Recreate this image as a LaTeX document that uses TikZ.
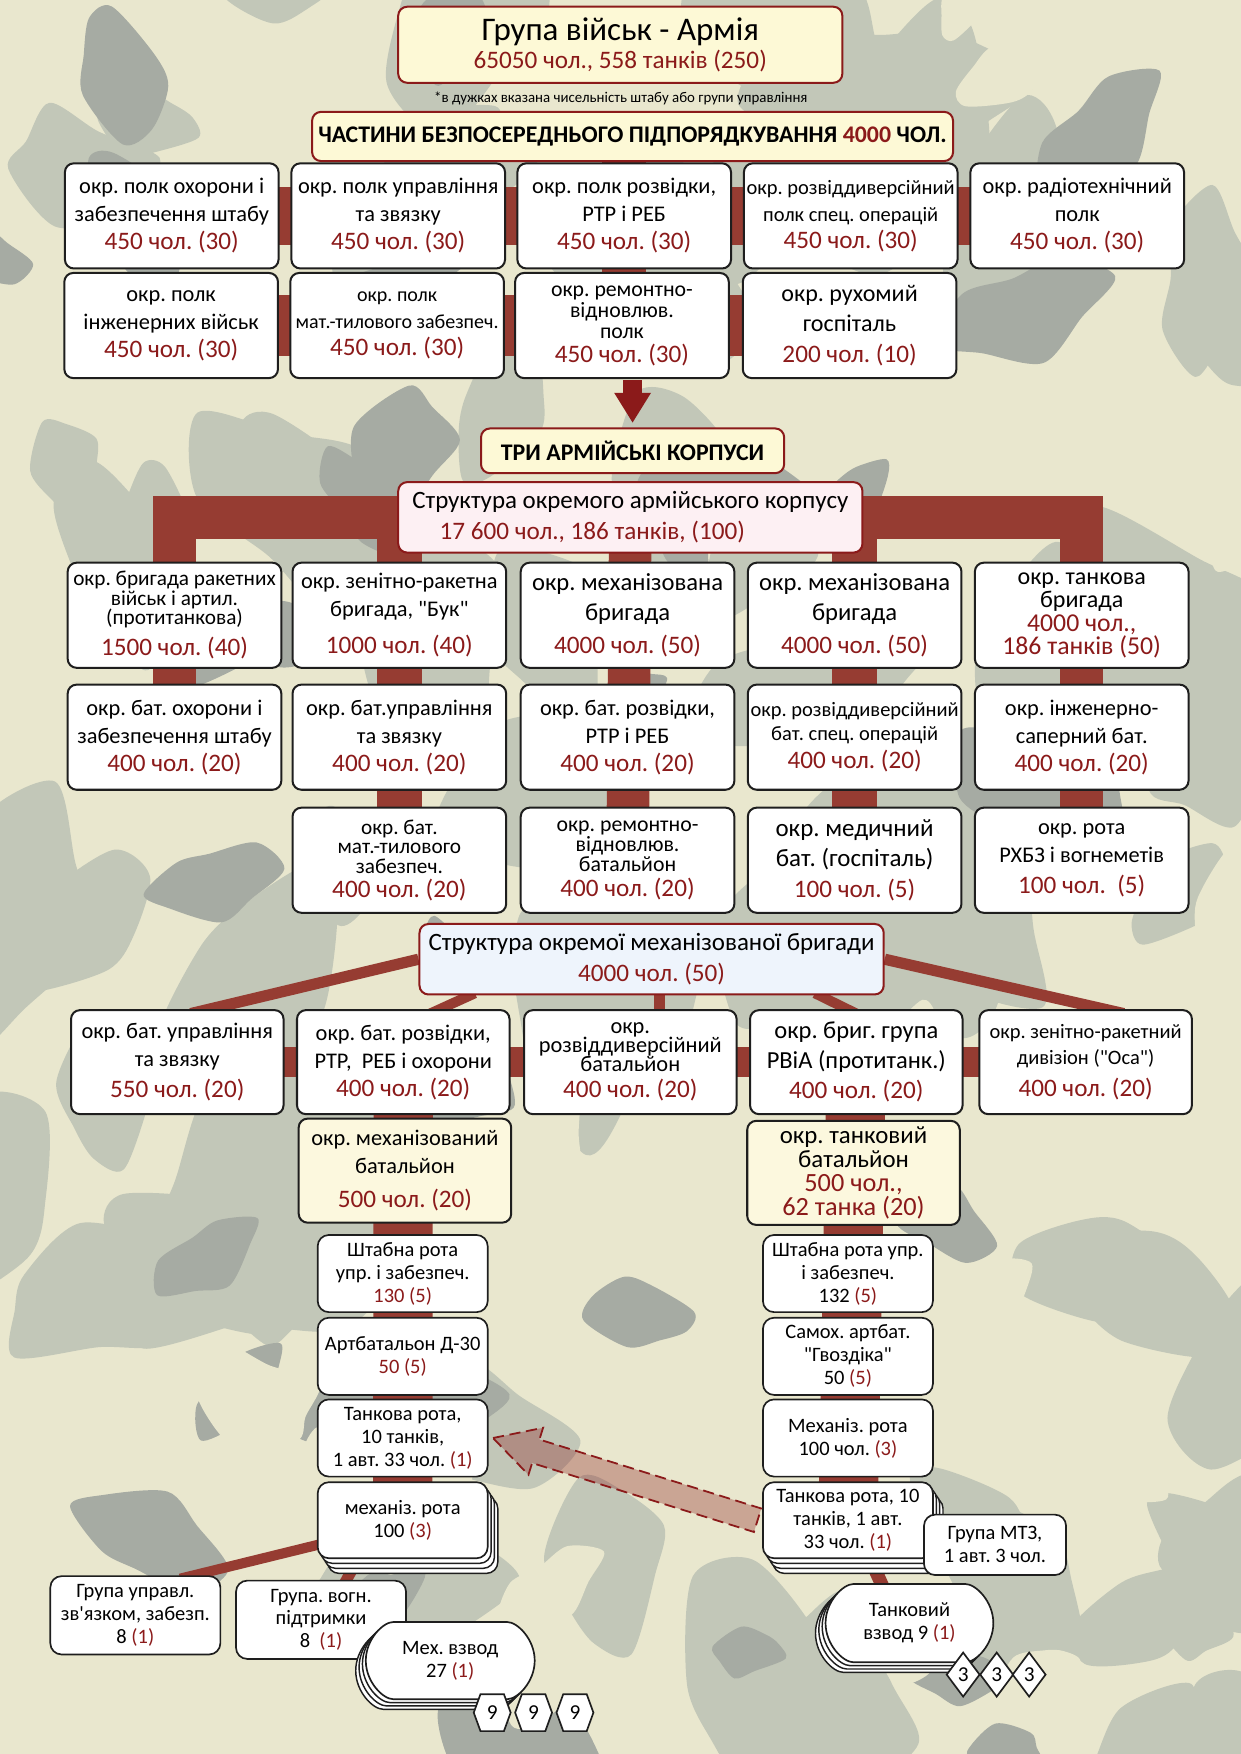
\documentclass[tikz,border=0pt]{standalone}
\usepackage{fontspec}
\setmainfont{Carlito}[Ligatures=TeXOff]
\usetikzlibrary{calc,arrows.meta,shapes.geometric,shapes.misc,shapes.symbols,shadows}

\definecolor{armyred}{RGB}{139,26,26}
\definecolor{barred}{RGB}{150,60,50}
\definecolor{boxline}{RGB}{30,30,30}
\definecolor{hqfill}{RGB}{253,249,214}
\definecolor{corpsfill}{RGB}{253,240,243}
\definecolor{brigfill}{RGB}{238,244,252}
\definecolor{batfill}{RGB}{252,248,222}
\definecolor{camolight}{RGB}{233,231,206}
\definecolor{camomid}{RGB}{194,199,184}
\definecolor{camodark}{RGB}{166,171,163}

\pgfdeclarelayer{camo}
\pgfdeclarelayer{bars}
\pgfsetlayers{camo,bars,main}

\frenchspacing
\newcommand\cnt[1]{\textcolor{armyred}{#1}}
\newcommand\strength[1]{{\fontsize{22.5}{25}\selectfont\color{armyred}#1}}

\tikzset{
  unitbox/.style={draw=boxline, line width=1.8, fill=white, rounded corners=8,
    align=center, inner sep=1, font=\fontsize{20}{25}\selectfont},
  wh/.style 2 args={minimum width=#1, minimum height=#2},
  hqbox/.style={unitbox, draw=armyred, fill=hqfill},
  corpsbox/.style={unitbox, draw=armyred, fill=corpsfill, font=\fontsize{22.3}{28}\selectfont},
  brigbox/.style={unitbox, draw=armyred, fill=brigfill, font=\fontsize{22.3}{28}\selectfont},
  batbox/.style={unitbox, fill=batfill},
  coybox/.style={unitbox, line width=1.5, rounded corners=10, font=\fontsize{18.3}{20.5}\selectfont},
  stackcopy/.style={fill=white, draw=boxline, line width=1.3},
  coystack/.style={coybox,
    general shadow={shadow xshift=9pt, shadow yshift=-13.5pt, stackcopy},
    general shadow={shadow xshift=6pt, shadow yshift=-9pt, stackcopy},
    general shadow={shadow xshift=3pt, shadow yshift=-4.5pt, stackcopy}},
  platoon/.style={coybox, rounded rectangle,
    general shadow={shadow xshift=-9pt, shadow yshift=-9pt, stackcopy},
    general shadow={shadow xshift=-6pt, shadow yshift=-6pt, stackcopy},
    general shadow={shadow xshift=-3pt, shadow yshift=-3pt, stackcopy}},
  hexa/.style={signal, signal to=east and west, signal pointer angle=140, draw=boxline,
    fill=white, line width=1.5, minimum width=33, minimum height=33, inner sep=0,
    font=\fontsize{19}{20}\selectfont},
  rhomb/.style={diamond, draw=boxline, fill=white, line width=1.5, minimum width=30,
    minimum height=40, inner sep=0, font=\fontsize{19}{20}\selectfont},
  bar/.style={draw=barred},
  dashbar/.style={draw=armyred, fill=armyred, fill opacity=0.32, line width=1.6,
    dash pattern=on 10pt off 5pt}
}

\begin{document}
\begin{tikzpicture}[x=1pt,y=-1pt]
  \useasboundingbox (0,0) rectangle (1109,1568);
  % camouflage
  \begin{pgfonlayer}{camo}
    \fill[camolight] (0,0) rectangle (1109,1568);
    \pgfmathsetseed{31}
    \foreach \col/\n/\rmin/\rvar in {camomid/85/45/75, camodark/36/30/50, camolight/22/30/40} {
      \foreach \i in {1,...,\n} {
        \pgfmathsetmacro\bx{rnd*1180-35}
        \pgfmathsetmacro\by{rnd*1640-35}
        \pgfmathsetmacro\br{\rmin+rnd*\rvar}
        \pgfmathsetmacro\ang{rnd*180}
        \pgfmathsetmacro\ph{rnd*360}
        \fill[\col, rotate around={\ang:(\bx,\by)}] plot[smooth cycle, domain=0:315, samples=8]
          ({\bx+\br*(1+0.3*sin(2*\x+\ph))*cos(\x)}, {\by+0.6*\br*(1+0.25*cos(3*\x+\ph))*sin(\x)});
      }
    }
  \end{pgfonlayer}

  % army level
  \node[hqbox, wh={397}{68}] (army) at (554.5,40)
    {{\fontsize{29.5}{31}\selectfont Група військ - Армія}\\\strength{65050 чол., 558 танків (250)}};
  \node[font=\fontsize{13.3}{14}\selectfont] (note) at (555,88)
    {*в дужках вказана чисельність штабу або групи управління};
  \node[hqbox, wh={573}{44}, font=\bfseries\fontsize{21.3}{24}\selectfont] (chast) at (565.5,122)
    {ЧАСТИНИ БЕЗПОСЕРЕДНЬОГО ПІДПОРЯДКУВАННЯ \textcolor{armyred}{4000} ЧОЛ.};

  \node[unitbox, wh={191}{94}] (r1a) at (153.5,193) {окр. полк охорони і\\забезпечення штабу\\\strength{450 чол. (30)}};
  \node[unitbox, wh={191}{94}] (r1b) at (356,193) {окр. полк управління\\та звязку\\\strength{450 чол. (30)}};
  \node[unitbox, wh={191}{94}] (r1c) at (558,193) {окр. полк розвідки,\\РТР і РЕБ\\\strength{450 чол. (30)}};
  \node[unitbox, wh={191}{94}, font=\fontsize{18.3}{24}\selectfont] (r1d) at (760.5,193) {окр. розвіддиверсійний\\полк спец. операцій\\\strength{450 чол. (30)}};
  \node[unitbox, wh={191}{94}] (r1e) at (963,193) {окр. радіотехнічний\\полк\\\strength{450 чол. (30)}};
  \node[unitbox, wh={191}{94}] (r2a) at (153,291) {окр. полк\\інженерних військ\\\strength{450 чол. (30)}};
  \node[unitbox, wh={191}{94}, font=\fontsize{17.9}{24}\selectfont] (r2b) at (355,291) {окр. полк\\мат.-тилового забезпеч.\\\strength{450 чол. (30)}};
  \node[unitbox, wh={191}{94}, font=\fontsize{19.5}{19}\selectfont] (r2c) at (556,291) {окр. ремонтно-\\відновлюв.\\полк\\[2pt]\strength{450 чол. (30)}};
  \node[unitbox, wh={191}{94}, font=\fontsize{21.5}{27}\selectfont] (r2d) at (759.5,291) {окр. рухомий\\госпіталь\\\strength{200 чол. (10)}};

  % corps level
  \node[hqbox, wh={271}{40}, font=\bfseries\fontsize{21.3}{24}\selectfont] (tri) at (565.5,403) {ТРИ АРМІЙСЬКІ КОРПУСИ};
  \draw[armyred, line width=17, -{Triangle[width=31pt,length=27pt]}] ($(tri.north)+(0,-42)$) -- ($(tri.north)+(0,-4)$);
  \node[corpsbox, wh={415}{63}] (corps) at (563.5,462.5)
    {Структура окремого армійського корпусу\\\strength{17 600 чол., 186 танків, (100)}\hspace*{68pt}};

  \node[unitbox, wh={191}{94}, font=\fontsize{19}{17.5}\selectfont] (cAa) at (156,550) {окр. бригада ракетних\\військ і артил.\\(протитанкова)\\[7pt]\strength{1500 чол. (40)}};
  \node[unitbox, wh={191}{94}] (cAb) at (357,550) {окр. зенітно-ракетна\\бригада, "Бук"\\[8pt]\strength{1000 чол. (40)}};
  \node[unitbox, wh={191}{94}, font=\fontsize{22}{27}\selectfont] (cAc) at (561,550) {окр. механізована\\бригада\\[2pt]\strength{4000 чол. (50)}};
  \node[unitbox, wh={191}{94}, font=\fontsize{22}{27}\selectfont] (cAd) at (764,550) {окр. механізована\\бригада\\[2pt]\strength{4000 чол. (50)}};
  \node[unitbox, wh={191}{94}, font=\fontsize{21.5}{21}\selectfont] (cAe) at (967,550) {окр. танкова\\бригада\\{\fontsize{23}{21}\selectfont\color{armyred}4000 чол.,}\\{\fontsize{23}{21}\selectfont\color{armyred}186 танків (50)}};
  \node[unitbox, wh={191}{94}] (cBa) at (156,659) {окр. бат. охорони і\\забезпечення штабу\\\strength{400 чол. (20)}};
  \node[unitbox, wh={191}{94}] (cBb) at (357,659) {окр. бат.управління\\та звязку\\\strength{400 чол. (20)}};
  \node[unitbox, wh={191}{94}] (cBc) at (561,659) {окр. бат. розвідки,\\РТР і РЕБ\\\strength{400 чол. (20)}};
  \node[unitbox, wh={191}{94}, font=\fontsize{18.3}{21}\selectfont] (cBd) at (764,659) {окр. розвіддиверсійний\\бат. спец. операцій\\[4pt]\strength{400 чол. (20)}};
  \node[unitbox, wh={191}{94}] (cBe) at (967,659) {окр. інженерно-\\саперний бат.\\\strength{400 чол. (20)}};
  \node[unitbox, wh={191}{94}, font=\fontsize{19}{17.5}\selectfont] (cCb) at (357,769) {окр. бат.\\мат.-тилового\\забезпеч.\\[4pt]\strength{400 чол. (20)}};
  \node[unitbox, wh={191}{94}, font=\fontsize{19.5}{18}\selectfont] (cCc) at (561,769) {окр. ремонтно-\\відновлюв.\\батальйон\\[4pt]\strength{400 чол. (20)}};
  \node[unitbox, wh={191}{94}, font=\fontsize{22.3}{27}\selectfont] (cCd) at (764,769) {окр. медичний\\бат. (госпіталь)\\\strength{100 чол. (5)}};
  \node[unitbox, wh={191}{94}] (cCe) at (967,769) {окр. рота\\РХБЗ і вогнеметів\\[3pt]\strength{100 чол.\ \ (5)}};

  % brigade level
  \node[brigbox, wh={415}{63}] (brig) at (582.5,857.5) {Структура окремої механізованої бригади\\\strength{4000 чол. (50)}};
  \node[unitbox, wh={190}{93}] (dA) at (158.5,949.5) {окр. бат. управління\\та звязку\\[3pt]\strength{550 чол. (20)}};
  \node[unitbox, wh={190}{93}] (dB) at (360.5,949.5) {окр. бат. розвідки,\\РТР,\ \ РЕБ і охорони\\\strength{400 чол. (20)}};
  \node[unitbox, wh={190}{93}, font=\fontsize{20}{17}\selectfont] (dC) at (563.5,949.5) {окр.\\розвіддиверсійний\\батальйон\\[6pt]\strength{400 чол. (20)}};
  \node[unitbox, wh={190}{93}, font=\fontsize{21.9}{27}\selectfont] (dD) at (765.5,949.5) {окр. бриг. група\\РВіА (протитанк.)\\\strength{400 чол. (20)}};
  \node[unitbox, wh={190}{93}, font=\fontsize{18.3}{23}\selectfont] (dE) at (970.5,949.5) {окр. зенітно-ракетний\\дивізіон ("Оса")\\[6pt]\strength{400 чол. (20)}};
  \node[batbox, wh={190}{93}] (bM) at (362,1046.5) {окр. механізований\\батальйон\\[5pt]\strength{500 чол. (20)}};
  \node[batbox, wh={190}{93}, font=\fontsize{22.2}{21.5}\selectfont] (bT) at (763,1048.5) {окр. танковий\\батальйон\\{\fontsize{23.5}{21}\selectfont\color{armyred}500 чол.,}\\{\fontsize{23.5}{21}\selectfont\color{armyred}62 танка (20)}};

  % mech battalion
  \node[coybox, wh={152}{69}] (sL) at (360,1138.5) {Штабна рота\\упр. і забезпеч.\\\cnt{130 (5)}};
  \node[coybox, wh={152}{69}] (aL) at (360,1212.5) {Артбатальон Д-30\\\cnt{50 (5)}};
  \node[coybox, wh={152}{69}] (tL) at (360,1285.5) {Танкова рота,\\10 танків,\\1 авт. 33 чол. \cnt{(1)}};
  \node[coystack, wh={152}{68}] (mL) at (360,1359) {механіз. рота\\100 \cnt{(3)}};
  \node[coybox, wh={152}{70}] (gU) at (121,1444) {Група управл.\\зв'язком, забезп.\\8 \cnt{(1)}};
  \node[coybox, wh={152}{70}] (gV) at (287,1448) {Група. вогн.\\підтримки\\8\ \ \cnt{(1)}};
  \node[platoon, wh={153}{69}] (vL) at (402.5,1484.5) {Мех. взвод\\27 \cnt{(1)}};
  \foreach \k/\hx in {1/440,2/477,3/514}
    \node[hexa] (h\k) at (\hx,1531) {9};

  % tank battalion
  \node[coybox, wh={152}{69}] (sR) at (758,1138.5) {Штабна рота упр.\\і забезпеч.\\132 \cnt{(5)}};
  \node[coybox, wh={152}{69}] (aR) at (758,1212.5) {Самох. артбат.\\"Гвоздіка"\\50 \cnt{(5)}};
  \node[coybox, wh={152}{69}] (mR) at (758,1285.5) {Механіз. рота\\100 чол. \cnt{(3)}};
  \node[coystack, wh={152}{68}] (tR) at (758,1359) {Танкова рота, 10\\танків, 1 авт.\\33 чол. \cnt{(1)}};
  \node[coybox, wh={127}{54}] (mtz) at (889.5,1381) {Група МТЗ,\\1 авт. 3 чол.};
  \node[platoon, wh={152}{70}] (vR) at (813,1451) {Танковий\\взвод 9 \cnt{(1)}};
  \foreach \k/\dx in {1/861,2/891,3/920}
    \node[rhomb] (d\k) at (\dx,1497) {3};

  % connecting bars
  \begin{pgfonlayer}{bars}
    \draw[bar, line width=39] (r1c.center |- chast.center) -- (r1c.center |- r2c.center);
    \draw[bar, line width=52] (r1a.center) -- (r1e.center);
    \draw[bar, line width=54] (r2a.center) -- (r2d.center);
    \draw[bar, line width=38] (cBa.center) -- (cBa.center |- corps.center) -- (cCe.center |- corps.center) -- (cCe.center);
    \draw[bar, line width=40] (cAb.center |- corps.center) -- (cCb.center);
    \draw[bar, line width=38] (corps.center) -- (cCc.center);
    \draw[bar, line width=40] (cAd.center |- corps.center) -- (cCd.center);
    \draw[bar, line width=27] (dA.center) -- (dE.center);
    \draw[bar, line width=10] (brig.west) -- ($(dA.north)+(12,4)$);
    \draw[bar, line width=9] ($(brig.south)+(-158,-2)$) -- ($(dB.north)+(24,4)$);
    \draw[bar, line width=10] ($(brig.south)+(7,-2)$) -- ($(dC.north)+(26,4)$);
    \draw[bar, line width=9] ($(brig.south)+(146,-2)$) -- ($(dD.north)+(0,4)$);
    \draw[bar, line width=10] (brig.east) -- ($(dE.north)+(34,4)$);
    \draw[bar, line width=53] (dB.center) -- (mL.center);
    \draw[bar, line width=53] (dD.center) -- (tR.center);
    \draw[bar, line width=9] ($(mL.south west)+(10,-15)$) -- ($(gU.north)+(40,3)$);
    \draw[bar, line width=10] ($(mL.south)+(-40,0)$) -- ($(gV.north)+(20,5)$);
    \draw[bar, line width=12] ($(tR.south)+(20,0)$) -- ($(vR.north)+(-23,5)$);
  \end{pgfonlayer}

  % transfer of the tank company
  \coordinate (aT) at ($(tL.east)+(4,0)$);
  \coordinate (aC) at ($(tR.west)+(-4,0)$);
  \coordinate (aB) at ($(aT)!40pt!(aC)$);
  \draw[dashbar] (aT) -- ($(aB)!22pt!90:(aC)$) -- ($(aB)!11pt!90:(aC)$) -- ($(aC)!11pt!-90:(aB)$)
    -- ($(aC)!11pt!90:(aB)$) -- ($(aB)!11pt!-90:(aC)$) -- ($(aB)!22pt!-90:(aC)$) -- cycle;
\end{tikzpicture}
\end{document}
